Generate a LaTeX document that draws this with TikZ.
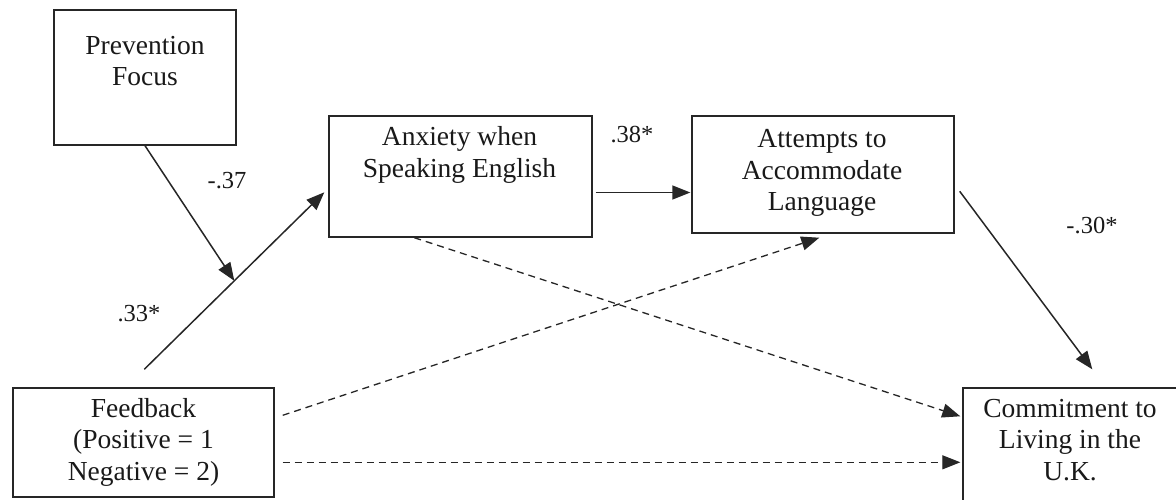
\documentclass[tikz,border=0pt]{standalone}
\usepackage{fontspec}
\setmainfont{Liberation Serif}
\usetikzlibrary{arrows.meta,calc}
\begin{document}
\begin{tikzpicture}[x=1pt,y=-1pt,
  box/.style={draw=black!85,line width=1.4pt,inner sep=0pt},
  txt/.style={align=center,inner sep=0pt,font=\fontsize{27.5}{31.5}\selectfont,text=black!90},
  lbl/.style={inner sep=0pt,font=\fontsize{24.5}{28}\selectfont,text=black!90},
  arr/.style={line width=1.5pt,draw=black!85,-{Triangle[length=18pt,width=14pt]}},
  darr/.style={line width=1.3pt,draw=black!85,dash pattern=on 7pt off 5pt,-{Triangle[length=18pt,width=14pt]}}
]
\useasboundingbox (0,0) rectangle (1176,500);
\begin{scope}
\clip (0,0) rectangle (1176,500);
% boxes
\node[box,minimum width=182pt,minimum height=135pt] (prev) at (145,77.5) {};
\node[box,minimum width=263pt,minimum height=121pt] (anx) at (460.5,176.5) {};
\node[box,minimum width=262pt,minimum height=117pt] (att) at (823,174.5) {};
\node[box,minimum width=261pt,minimum height=109pt] (fb) at (143.5,442.5) {};
\node[box,minimum width=230pt,minimum height=130pt] (com) at (1078,453) {};
% texts
\node[txt] (prevT) at (145,61) {Prevention\\Focus};
\node[txt] (anxT) at (459.5,155) {Anxiety when\\Speaking English};
\node[txt] (attT) at (822,173) {Attempts to\\Accommodate\\Language};
\node[txt] (fbT) at (143.5,442) {Feedback\\(Positive = 1\\Negative = 2)};
\node[txt] (comT) at (1070,440) {Commitment to\\Living in the\\U.K.};
\end{scope}
% coordinates
\coordinate (fbTop) at ($(fb.north west)+(132,-18)$);
\coordinate (anxIn) at ($(anx.north west)+(-4,77)$);
\coordinate (mid) at ($(fbTop)!0.5!(anxIn)$);
\coordinate (attOut) at ($(att.north east)+(5,76)$);
\coordinate (comIn) at ($(com.north west)+(130,-18)$);
\coordinate (anxBot) at ($(anx.south west)+(86,0)$);
\coordinate (attBot) at ($(att.south west)+(128,4)$);
\coordinate (fbR1) at ($(fb.north east)+(8,28)$);
\coordinate (fbR2) at ($(fb.north east)+(8,75)$);
\coordinate (comW1) at ($(com.north west)+(-2,29)$);
\coordinate (comW2) at ($(com.north west)+(-2,75)$);
% connectors
\draw[arr] (fbTop) -- (anxIn);
\draw[arr] (prev.south) -- (mid);
\draw[arr] ($(anx.east)+(3,16)$) -- ($(att.west)+(-1,18)$);
\draw[arr] (attOut) -- (comIn);
\draw[darr] (anxBot) -- (comW1);
\draw[darr] (fbR1) -- (attBot);
\draw[darr] (fbR2) -- (comW2);
% labels
\node[lbl] (l37) at (227,181) {-.37};
\node[lbl] (l33) at (139,314) {.33*};
\node[lbl] (l38) at (632,135) {.38*};
\node[lbl] (l30) at (1092,226) {-.30*};
\end{tikzpicture}
\end{document}
